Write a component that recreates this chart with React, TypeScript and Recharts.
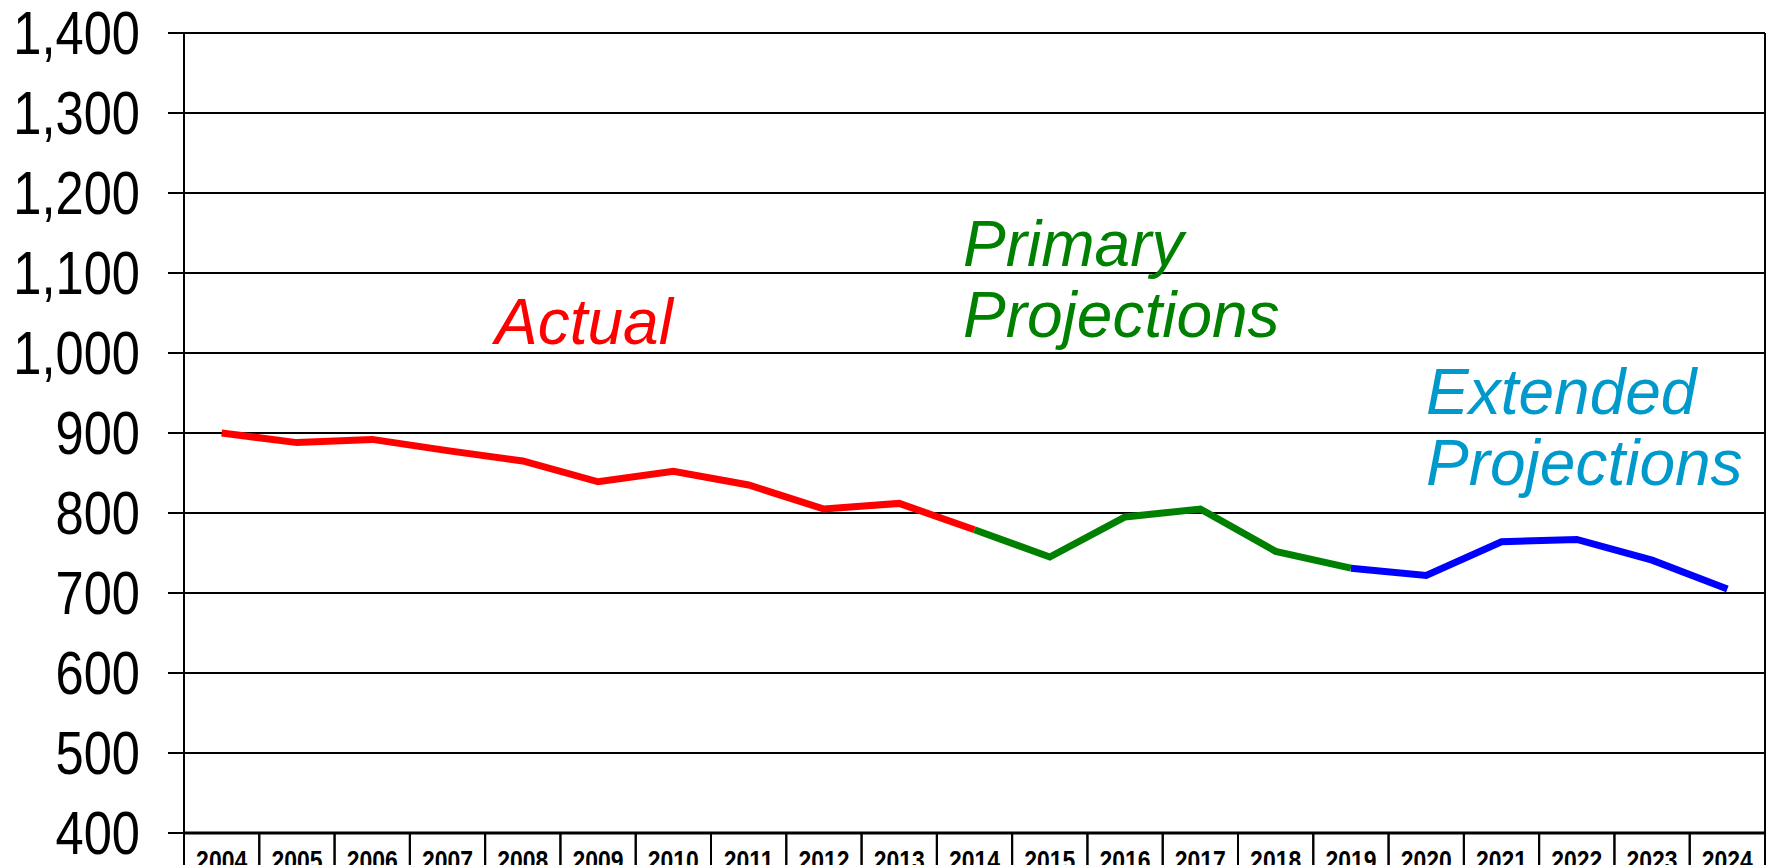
import { CartesianGrid, Line, LineChart, XAxis, YAxis } from "recharts";

// years on the category axis
const years = [
  "2004", "2005", "2006", "2007", "2008", "2009", "2010", "2011", "2012", "2013", "2014",
  "2015", "2016", "2017", "2018", "2019", "2020", "2021", "2022", "2023", "2024",
];

// actual values 2004 - 2014
const actual = [900, 888, 892, 878, 865, 839, 852, 835, 805, 812, 779];
// primary projections 2014 - 2019
const primary = [779, 745, 795, 805, 752, 731];
// extended projections 2019 - 2024
const extended = [731, 722, 764, 767, 741, 705];

const yTicks = [400, 500, 600, 700, 800, 900, 1000, 1100, 1200, 1300, 1400];

const FONT = '"Liberation Sans", Arial, sans-serif';
const HALF_BAND = 37.64;

const data = years.map((year, i) => ({
  year,
  actual: i < actual.length ? actual[i] : null,
  primary: i >= 10 && i < 10 + primary.length ? primary[i - 10] : null,
  extended: i >= 15 && i < 15 + extended.length ? extended[i - 15] : null,
}));

const YTick = (props: any) => {
  const { x, y, payload } = props;
  return (
    <text
      transform={`translate(${x},${y + 21}) scale(0.83,1)`}
      textAnchor="end"
      fontFamily={FONT}
      fontSize={61}
      fill="#000"
    >
      {payload.value.toLocaleString("en-US")}
    </text>
  );
};

const XTick = (props: any) => {
  const { x, y, payload } = props;
  return (
    <g>
      <line x1={x - HALF_BAND} x2={x - HALF_BAND} y1={y} y2={y + 40} stroke="#000" strokeWidth={2} />
      <line x1={x + HALF_BAND} x2={x + HALF_BAND} y1={y} y2={y + 40} stroke="#000" strokeWidth={2} />
      <text
        transform={`translate(${x},${y + 37}) scale(0.82,1)`}
        textAnchor="middle"
        fontFamily={FONT}
        fontWeight="bold"
        fontSize={28}
        fill="#000"
      >
        {payload.value}
      </text>
    </g>
  );
};

export default function App() {
  return (
    <div style={{ position: "absolute", left: 0, top: 0, background: "#fff" }}>
      <LineChart width={1773} height={865} data={data} margin={{ top: 33, right: 8, left: 0, bottom: 0 }}>
        <CartesianGrid
          stroke="#000"
          strokeWidth={2}
          verticalCoordinatesGenerator={({ offset }: any) => [offset.left + offset.width]}
        />
        <XAxis
          dataKey="year"
          height={32}
          padding={{ left: HALF_BAND, right: HALF_BAND }}
          interval={0}
          tickSize={0}
          tickMargin={0}
          tickLine={false}
          axisLine={{ stroke: "#000", strokeWidth: 3 }}
          tick={<XTick />}
        />
        <YAxis
          type="number"
          width={184}
          domain={[400, 1400]}
          ticks={yTicks}
          interval={0}
          tickSize={16}
          tickMargin={28}
          tickLine={{ stroke: "#000", strokeWidth: 2 }}
          axisLine={{ stroke: "#000", strokeWidth: 2 }}
          tick={<YTick />}
        />
        <Line dataKey="actual" stroke="#ff0000" strokeWidth={7} dot={false} activeDot={false} isAnimationActive={false} connectNulls={false} />
        <Line dataKey="primary" stroke="#008000" strokeWidth={7} dot={false} activeDot={false} isAnimationActive={false} connectNulls={false} />
        <Line dataKey="extended" stroke="#0000ff" strokeWidth={7} dot={false} activeDot={false} isAnimationActive={false} connectNulls={false} />
        <text x={495} y={344} fontFamily={FONT} fontStyle="italic" fontSize={64} fill="#ff0000">Actual</text>
        <text fontFamily={FONT} fontStyle="italic" fontSize={64} fill="#008000">
          <tspan x={963} y={266}>Primary</tspan>
          <tspan x={963} y={337}>Projections</tspan>
        </text>
        <text fontFamily={FONT} fontStyle="italic" fontSize={64} fill="#0099cc">
          <tspan x={1426} y={414}>Extended</tspan>
          <tspan x={1426} y={485}>Projections</tspan>
        </text>
      </LineChart>
    </div>
  );
}
